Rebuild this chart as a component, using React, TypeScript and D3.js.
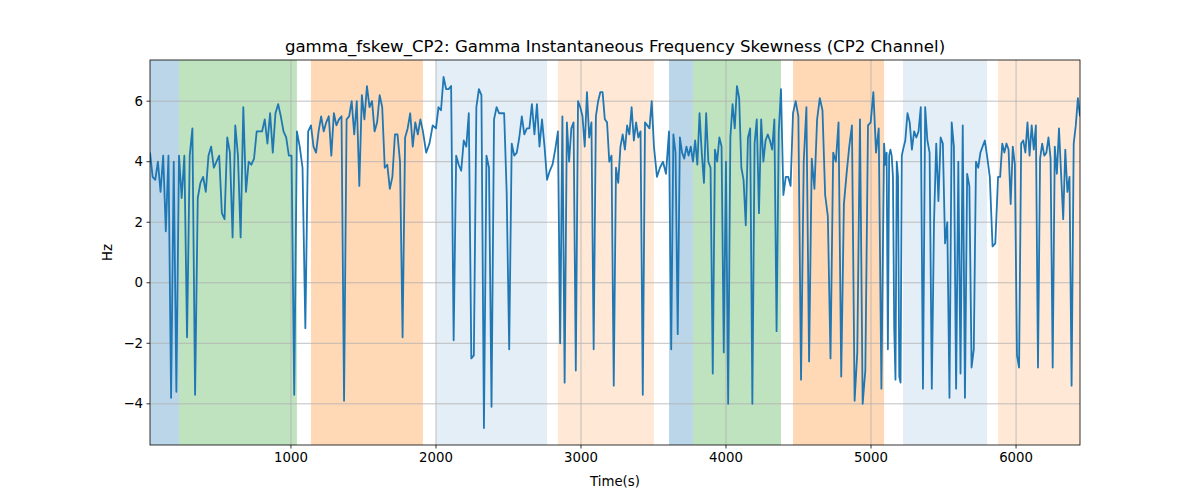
import React from "react";
import * as d3 from "d3";

const title = "gamma_fskew_CP2: Gamma Instantaneous Frequency Skewness (CP2 Channel)";
const xTicks = [1000, 2000, 3000, 4000, 5000, 6000];
const yTicks = [-4, -2, 0, 2, 4, 6];

const bands = [
  { start: 28, end: 228, color: "rgba(31,119,180,0.3)" },
  { start: 228, end: 1041, color: "rgba(44,160,44,0.3)" },
  { start: 1138, end: 1910, color: "rgba(255,127,14,0.3)" },
  { start: 2000, end: 2766, color: "rgba(31,119,180,0.12)" },
  { start: 2841, end: 3503, color: "rgba(255,127,14,0.17)" },
  { start: 3607, end: 3772, color: "rgba(31,119,180,0.3)" },
  { start: 3772, end: 4379, color: "rgba(44,160,44,0.3)" },
  { start: 4462, end: 5090, color: "rgba(255,127,14,0.3)" },
  { start: 5221, end: 5800, color: "rgba(31,119,180,0.12)" },
  { start: 5876, end: 6441, color: "rgba(255,127,14,0.17)" },
];

const seg1 = [4.3,3.5,3.4,4.0,3.0,4.2,1.7,4.2,-3.8,4.0,-3.6];
const seg2 = [4.2,2.8,4.2,-1.8,4.2,5.1,-3.7,2.8,3.3,3.5,3.0,4.2,4.5,3.8,4.0,4.2,2.3,2.1,4.8,4.3,1.5,5.2,4.2,1.5,5.8,3.0,4.0,3.9,4.1,5.0,5.0,5.0,5.4,4.6,5.6,4.3,5.6,5.9,5.5,5.0,4.8,4.2,4.2,-3.7];
const seg3 = [5.0,4.5,3.8,-1.5,5.0];
const seg4 = [5.2,4.5,4.3,5.0,5.5,5.0,5.3,5.5,4.2,5.6,5.2,5.4,5.5,-3.9,5.4,5.5,6.0,4.9,6.0,3.2,6.2,5.4,6.5,5.8,6.0,5.0,5.3,6.2,5.8,3.8,3.9,3.1,3.5,4.9,4.9,4.0,-1.8,4.8,5.1,5.6,4.5,5.3,4.9,5.4];
const seg5 = [5.0,4.3,4.6,5.2];
const seg6 = [5.1,5.8,5.7,6.8,6.4,6.4,6.5,-1.9,4.2,3.9,3.7,4.7,4.5,5.6,-2.5,-2.4,5.8,6.4,6.2,-4.8,4.2,3.8,-4.1,5.4,5.8,5.6,5.6,5.6,3.0,-2.2,4.6,4.2,4.3,4.8,5.5,4.9,5.1,5.1,5.9,4.9,5.9,4.5,5.4,4.5];
const seg7 = [3.4,3.7,3.9,4.4];
const seg8 = [5.0,-2.0,5.5,-3.3,5.3,4.0,5.1,5.3,-2.9,6.0,5.8,5.5,4.5,6.3,4.8,5.3,-2.2,5.5,6.0,6.3,6.3,5.4,5.3,4.0,4.2,-3.4,3.8,3.3,4.5,4.9,4.4,5.2,4.9,5.8,4.7,5.3,4.8,5.0,-3.7,5.3,5.2,5.1,6.0];
const seg9 = [4.5,3.5,3.8,4.0,3.6];
const seg10 = [5.0,-2.2,4.9,4.3,-1.7,4.8,4.3,4.1,4.5,4.2,4.5];
const seg11 = [4.0,4.7,3.9,5.6,4.3,3.3,5.6,4.0,3.8,-3.0,4.4,4.0,4.8,4.5,-2.3,4.0,-4.0,4.8,5.9,5.1,6.5,6.1,3.8,3.4,1.9,4.8,5.1,-4.0,4.6,5.4,2.3,5.4,4.0,4.7,4.9,4.7,4.4,5.4,-1.6,5.0];
const seg12 = [6.4,2.9,3.5,3.5,3.2];
const seg13 = [5.6,6.0,5.5,-3.2,4.0,5.8,-2.6,4.1,3.1,5.4,6.1,5.7,2.9,2.2,-2.5,4.3,4.0,5.3,-3.1,2.6,3.6,4.5,5.2,-3.9,-2.3,5.4,-4.0,-2.9,5.2,5.3,6.3,4.3,5.1,-3.5];
const seg14 = [4.6,3.9,4.3,-2.2,4.2,4.4,4.2,3.5,-1.5,-3.2,4.0,3.5,-3.1,-3.3,4.2];
const seg15 = [4.4,4.7,5.6,5.3,4.4,5.0,4.8,5.0,5.8,-3.5,5.8,4.7,4.3,-3.5,2.0,4.6,2.7,4.8,4.6,1.3,2.0,-3.8,5.3,4.5,-3.5,4.0,-3.0,5.2,-3.8,3.6,3.2,-2.8,-2.2,4.0,3.8,4.3,4.5,4.7];
const seg16 = [4.2,3.5,1.2,1.3];
const seg17 = [3.5,3.5,4.6,4.3,4.6,4.4,2.6,4.5,3.9,-2.4,-2.8,4.6,4.7,4.3,5.3,4.2,5.2,4.4,5.2,-2.8,4.1,4.6,4.2,4.3,4.8,4.1,-2.8,4.5,3.6,5.1,3.6,2.1,4.4,3.0,3.5,-3.4,4.6,5.2,6.1,5.5];

const segments = [
  { start: 28, end: 228, values: seg1 },
  { start: 228, end: 1041, values: seg2 },
  { start: 1041, end: 1138, values: seg3 },
  { start: 1138, end: 1910, values: seg4 },
  { start: 1910, end: 2000, values: seg5 },
  { start: 2000, end: 2766, values: seg6 },
  { start: 2766, end: 2841, values: seg7 },
  { start: 2841, end: 3503, values: seg8 },
  { start: 3503, end: 3607, values: seg9 },
  { start: 3607, end: 3772, values: seg10 },
  { start: 3772, end: 4379, values: seg11 },
  { start: 4379, end: 4462, values: seg12 },
  { start: 4462, end: 5090, values: seg13 },
  { start: 5090, end: 5221, values: seg14 },
  { start: 5221, end: 5800, values: seg15 },
  { start: 5800, end: 5876, values: seg16 },
  { start: 5876, end: 6441, values: seg17 },
];

export default function App() {
  const W = 1200, H = 500;
  const m = { l: 150, r: 1080, t: 60, b: 445 };
  const x = d3.scaleLinear().domain([28, 6441]).range([m.l, m.r]);
  const y = d3.scaleLinear().domain([-5.36, 7.36]).range([m.b, m.t]);

  const pts: [number, number][] = [];
  segments.forEach((s, si) => {
    const n = s.values.length;
    const last = si === segments.length - 1;
    const dt = (s.end - s.start) / (last ? n - 1 : n);
    s.values.forEach((v, i) => pts.push([s.start + i * dt, v]));
  });
  const line = d3.line<[number, number]>().x(d => x(d[0])).y(d => y(d[1]));

  return (
    <svg width={W} height={H} style={{ display: "block", position: "absolute", left: 0, top: 0 }}
      fontFamily="DejaVu Sans">
      {bands.map((b, i) => (
        <rect key={i} x={x(b.start)} y={m.t} width={x(b.end) - x(b.start)} height={m.b - m.t} fill={b.color} />
      ))}
      {xTicks.map(t => (
        <g key={t}>
          <line x1={x(t)} x2={x(t)} y1={m.t} y2={m.b} stroke="#b0b0b0" strokeWidth={0.8} />
          <line x1={x(t)} x2={x(t)} y1={m.b} y2={m.b + 3.5} stroke="#000" strokeWidth={0.8} />
          <text x={x(t)} y={m.b + 17} textAnchor="middle" fontSize={13.3}>{t}</text>
        </g>
      ))}
      {yTicks.map(t => (
        <g key={t}>
          <line x1={m.l} x2={m.r} y1={y(t)} y2={y(t)} stroke="#b0b0b0" strokeWidth={0.8} />
          <line x1={m.l - 3.5} x2={m.l} y1={y(t)} y2={y(t)} stroke="#000" strokeWidth={0.8} />
          <text x={m.l - 7} y={y(t)} dy="0.35em" textAnchor="end" fontSize={13.3}>{t < 0 ? "\u2212" + Math.abs(t) : t}</text>
        </g>
      ))}
      <defs>
        <clipPath id="c"><rect x={m.l} y={m.t} width={m.r - m.l} height={m.b - m.t} /></clipPath>
      </defs>
      <path d={line(pts) || ""} fill="none" stroke="#1f77b4" strokeWidth={1.8} clipPath="url(#c)" strokeLinejoin="round" />
      <rect x={m.l} y={m.t} width={m.r - m.l} height={m.b - m.t} fill="none" stroke="#000" strokeWidth={0.8} />
      <text x={(m.l + m.r) / 2} y={52} textAnchor="middle" fontSize={16.6}>{title}</text>
      <text x={(m.l + m.r) / 2} y={486} textAnchor="middle" fontSize={13.3}>Time(s)</text>
      <text transform={`translate(112,${(m.t + m.b) / 2}) rotate(-90)`} textAnchor="middle" fontSize={13.3}>Hz</text>
    </svg>
  );
}
